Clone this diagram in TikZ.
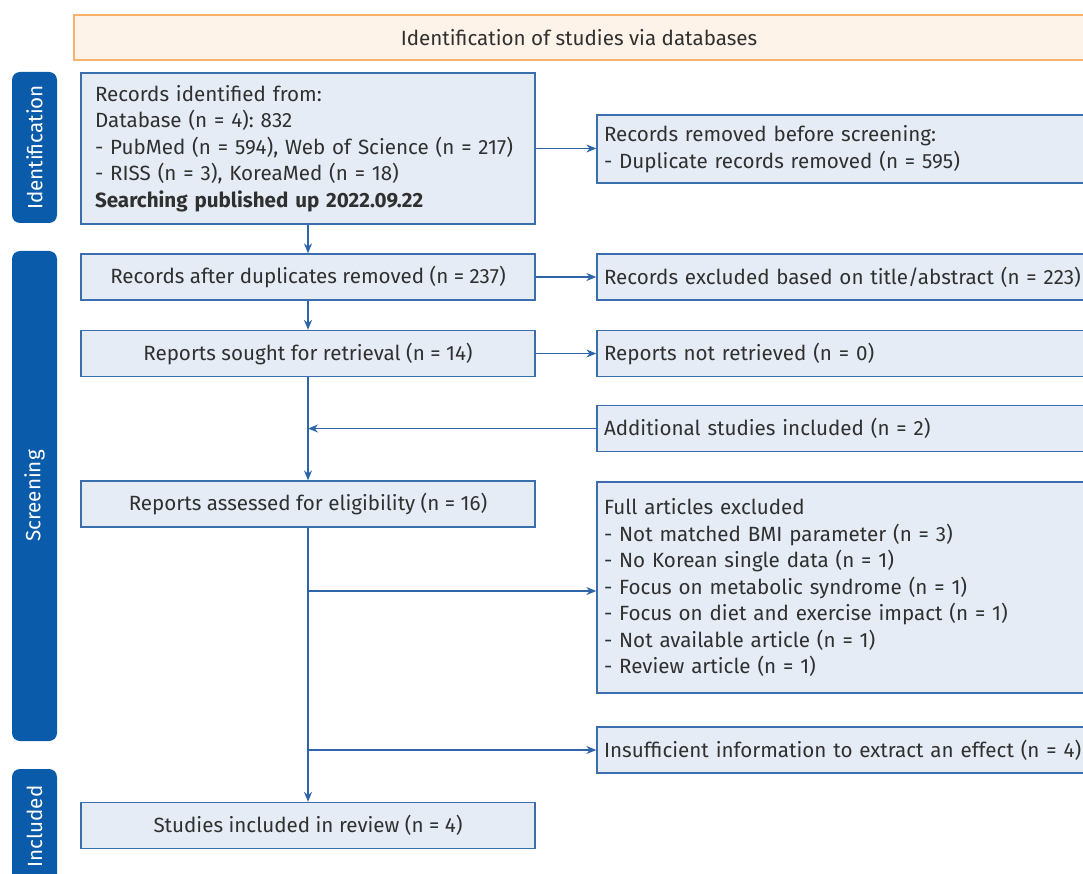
\documentclass[tikz,border=0pt]{standalone}
\usepackage{fontspec}
\setmainfont{Fira Sans}
\usepackage{tikz}
\usetikzlibrary{positioning}
\usetikzlibrary{arrows.meta}
\usepackage{xcolor}
\definecolor{boxfill}{HTML}{E5ECF6}
\definecolor{boxline}{HTML}{3A6EAF}
\definecolor{arrline}{HTML}{2D64AA}
\definecolor{labfill}{HTML}{0A5BAA}
\definecolor{headfill}{HTML}{FEF3E8}
\definecolor{headline}{HTML}{F7B36B}
\definecolor{txt}{HTML}{303030}
\frenchspacing

\begin{document}
\begin{tikzpicture}[x=1pt, y=-1pt,
    every node/.style={font=\fontsize{20.6}{26.5}\selectfont, text=txt},
    box/.style={draw=boxline, fill=boxfill, line width=1.3pt, rectangle},
    midbox/.style={box, minimum width=454pt, minimum height=46pt, align=center},
    sidebox/.style={box, minimum width=493pt, inner xsep=7pt, text width=479pt, align=left},
    phase/.style={fill=labfill, rounded corners=8pt, rotate=90, minimum height=45pt, text=white},
    arr/.style={draw=arrline, line width=1.3pt, -{Stealth[length=10pt,width=8pt]}}]
    \useasboundingbox (0,0) rectangle (1083,874);
    \clip (0,0) rectangle (1083,874);
    % header and phase labels
    \node[draw=headline, fill=headfill, line width=1.3pt, minimum width=1010pt, minimum height=45pt] (head) at (579,37.5) {Identification of studies via databases};
    \node[phase, minimum width=151pt] (idlab) at (34.5,147.5) {Identification};
    \node[phase, minimum width=490pt] (scrlab) at (34.5,496) {Screening};
    \node[phase, minimum width=115pt] (inclab) at (34.5,826.5) {Included};
    % main column
    \node[box, minimum width=454pt, minimum height=151pt, inner xsep=14pt, text width=426pt, align=left] (rec) at (308,148.5) {Records identified from:\\Database (n = 4): 832\\- PubMed (n = 594), Web of Science (n = 217)\\- RISS (n = 3), KoreaMed (n = 18)\\\textbf{Searching published up 2022.09.22}};
    \node[midbox] (dup) at (308,277) {Records after duplicates removed (n = 237)};
    \node[midbox] (sought) at (308,353.5) {Reports sought for retrieval (n = 14)};
    \node[midbox] (elig) at (308,504) {Reports assessed for eligibility (n = 16)};
    \node[midbox] (incl) at (308,825.5) {Studies included in review (n = 4)};
    % side column
    \node[sidebox, minimum height=68pt] (rem) at (843.5,149) {Records removed before screening:\\- Duplicate records removed (n = 595)};
    \node[sidebox, minimum height=46pt] (excl) at (843.5,277) {Records excluded based on title/abstract (n = 223)};
    \node[sidebox, minimum height=46pt] (notret) at (843.5,353.5) {Reports not retrieved (n = 0)};
    \node[sidebox, minimum height=46pt] (addl) at (843.5,428.5) {Additional studies included (n = 2)};
    \node[sidebox, minimum height=211pt] (fullex) at (843.5,587.5) {Full articles excluded\\- Not matched BMI parameter (n = 3)\\- No Korean single data (n = 1)\\- Focus on metabolic syndrome (n = 1)\\- Focus on diet and exercise impact (n = 1)\\- Not available article (n = 1)\\- Review article (n = 1)};
    \node[sidebox, minimum height=46pt] (insuf) at (843.5,750) {Insufficient information to extract an effect (n = 4)};
    \coordinate (join1) at (308,428.5);
    \coordinate (join2) at (308,591);
    \coordinate (join3) at (308,750);

    \draw[arr] (rec.east) -- (rec.east -| rem.west);
    \draw[arr] (rec) -- (dup);
    \draw[arr] (dup) -- (excl);
    \draw[arr] (dup) -- (sought);
    \draw[arr] (sought) -- (notret);
    \draw[arr] (sought) -- (elig);
    \draw[arr] (addl.west) -- (join1);
    \draw[arr] (elig) -- (incl);
    \draw[arr] (join2) -- (join2 -| fullex.west);
    \draw[arr] (join3) -- (insuf.west);
\end{tikzpicture}
\end{document}
